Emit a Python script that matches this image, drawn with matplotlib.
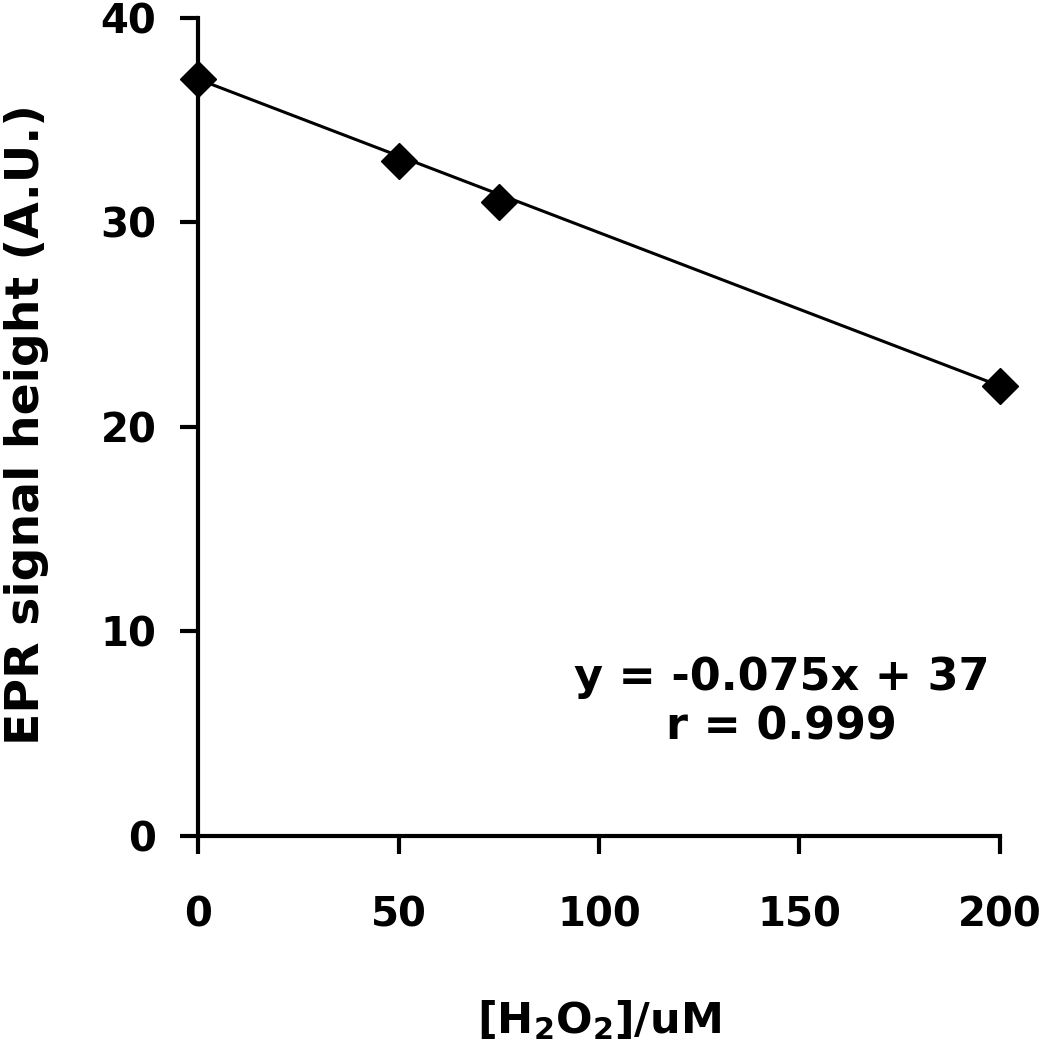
import numpy as np
import matplotlib.pyplot as plt

# data
conc = [0, 50, 75, 200]
signal = [37, 33, 31, 22]
slope = -0.075
intercept = 37
fit_label = 'y = -0.075x + 37\nr = 0.999'

fig = plt.figure(figsize=(10.48, 10.5), dpi=100)
ax = fig.add_axes([0.189, 0.204, 0.765, 0.779])

xs = np.array([conc[0], conc[-1]])
ax.plot(xs, slope * xs + intercept, color='black', lw=2.2, zorder=2)
ax.plot(conc, signal, linestyle='none', marker='D', markersize=18,
        color='black', clip_on=False, zorder=3)

ax.set_xlim(0, 200)
ax.set_ylim(0, 40)
ax.set_xticks([0, 50, 100, 150, 200])
ax.set_yticks([0, 10, 20, 30, 40])

for s in ['top', 'right']:
    ax.spines[s].set_visible(False)
for s in ['left', 'bottom']:
    ax.spines[s].set_linewidth(3)

ax.tick_params(axis='both', direction='out', length=13, width=3,
               labelsize=29)
ax.tick_params(axis='x', pad=30)
ax.tick_params(axis='y', pad=17)
for lab in ax.get_xticklabels() + ax.get_yticklabels():
    lab.set_fontweight('bold')
    lab.set_family('DejaVu Sans')

ax.set_ylabel('EPR signal height (A.U.)', fontsize=34, fontweight='bold',
              family='DejaVu Sans', labelpad=20)
ax.yaxis.set_label_coords(-0.186, 0.503)
ax.set_xlabel(r'[H$_\mathbf{2}$O$_\mathbf{2}$]/uM', fontsize=31, fontweight='bold',
              family='DejaVu Sans', labelpad=45)

ax.text(0.728, 0.163, fit_label, transform=ax.transAxes, ha='center', va='center',
        fontsize=32, fontweight='bold', family='DejaVu Sans', linespacing=1.18)

fig.savefig('out.png', dpi=100)
